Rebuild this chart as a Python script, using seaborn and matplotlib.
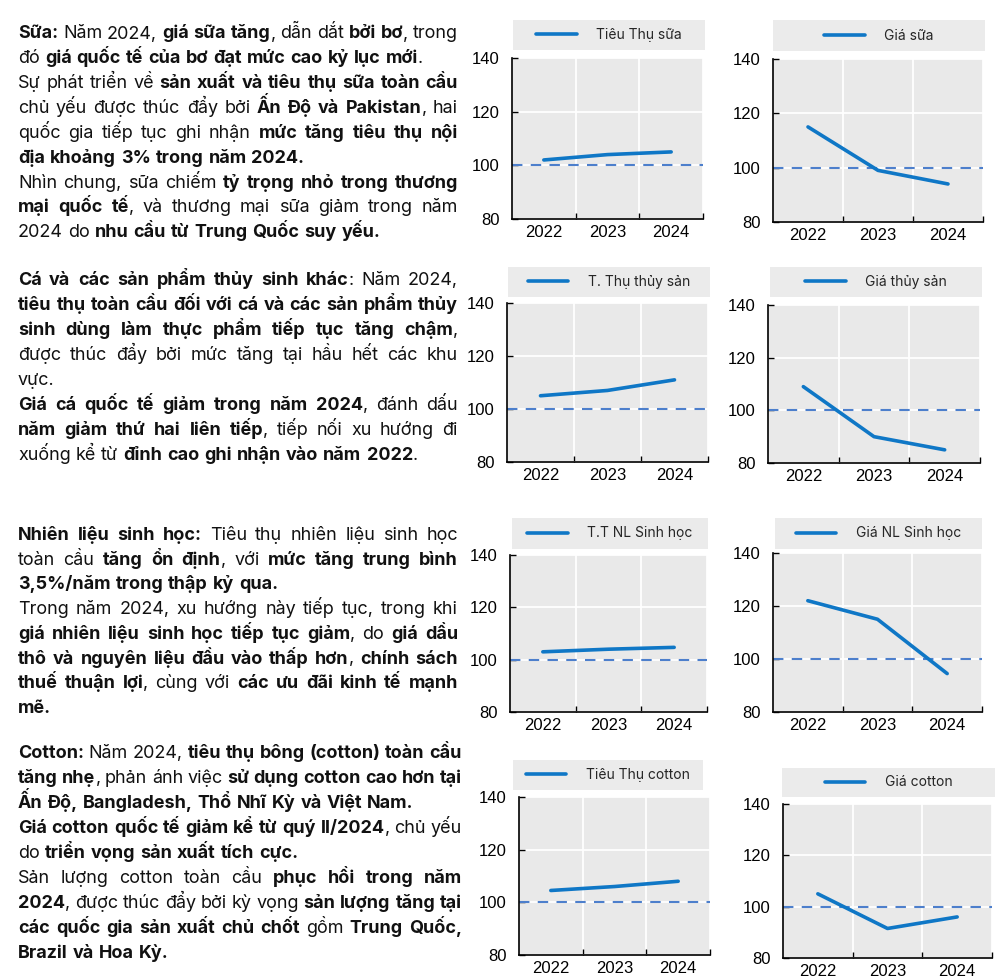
import matplotlib
matplotlib.use("Agg")
import matplotlib.pyplot as plt
from matplotlib.patches import Rectangle
from matplotlib.ticker import FixedLocator
import numpy as np
import pandas as pd
import seaborn as sns

# ---- data ----
years = [2022, 2023, 2024]
sua_tieu_thu = [102, 104, 105]
sua_gia = [115, 99, 94]
thuy_san_tieu_thu = [105, 107, 111]
thuy_san_gia = [109, 90, 85]
nlsh_tieu_thu = [103, 104, 104.7]
nlsh_gia = [122, 115, 94.5]
cotton_tieu_thu = [104.5, 106, 108]
cotton_gia = [105, 91.5, 96]
series = [sua_tieu_thu, sua_gia, thuy_san_tieu_thu, thuy_san_gia,
          nlsh_tieu_thu, nlsh_gia, cotton_tieu_thu, cotton_gia]
series_labels = ["Tiêu Thụ sữa", "Giá sữa", "T. Thụ thủy sản", "Giá thủy sản",
                 "T.T NL Sinh học", "Giá NL Sinh học", "Tiêu Thụ cotton", "Giá cotton"]
y_ticks = [80, 100, 120, 140]
base_level = 100

# text blocks, ** marks bold, flag = justified line
text_sua = [
    ("**Sữa:** Năm 2024, **giá sữa tăng**, dẫn dắt **bởi bơ**, trong", True),
    ("đó **giá quốc tế của bơ đạt mức cao kỷ lục mới**.", False),
    ("Sự phát triển về **sản xuất và tiêu thụ sữa toàn cầu**", True),
    ("chủ yếu được thúc đẩy bởi **Ấn Độ và Pakistan**, hai", True),
    ("quốc gia tiếp tục ghi nhận **mức tăng tiêu thụ nội**", True),
    ("**địa khoảng 3% trong năm 2024.**", False),
    ("Nhìn chung, sữa chiếm **tỷ trọng nhỏ trong thương**", True),
    ("**mại quốc tế**, và thương mại sữa giảm trong năm", True),
    ("2024 do **nhu cầu từ Trung Quốc suy yếu.**", False),
]
text_ca = [
    ("**Cá và các sản phẩm thủy sinh khác**: Năm 2024,", True),
    ("**tiêu thụ toàn cầu đối với cá và các sản phẩm thủy**", True),
    ("**sinh dùng làm thực phẩm tiếp tục tăng chậm**,", True),
    ("được thúc đẩy bởi mức tăng tại hầu hết các khu", True),
    ("vực.", False),
    ("**Giá cá quốc tế giảm trong năm 2024**, đánh dấu", True),
    ("**năm giảm thứ hai liên tiếp**, tiếp nối xu hướng đi", True),
    ("xuống kể từ **đỉnh cao ghi nhận vào năm 2022**.", False),
]
text_nlsh = [
    ("**Nhiên liệu sinh học:** Tiêu thụ nhiên liệu sinh học", True),
    ("toàn cầu **tăng ổn định**, với **mức tăng trung bình**", True),
    ("**3,5%/năm trong thập kỷ qua.**", False),
    ("Trong năm 2024, xu hướng này tiếp tục, trong khi", True),
    ("**giá nhiên liệu sinh học tiếp tục giảm**, do **giá dầu**", True),
    ("**thô và nguyên liệu đầu vào thấp hơn**, **chính sách**", True),
    ("**thuế thuận lợi**, cùng với **các ưu đãi kinh tế mạnh**", True),
    ("**mẽ.**", False),
]
text_cotton = [
    ("**Cotton:** Năm 2024, **tiêu thụ bông (cotton) toàn cầu**", True),
    ("**tăng nhẹ**, phản ánh việc **sử dụng cotton cao hơn tại**", True),
    ("**Ấn Độ, Bangladesh, Thổ Nhĩ Kỳ và Việt Nam.**", False),
    ("**Giá cotton quốc tế giảm kể từ quý II/2024**, chủ yếu", True),
    ("do **triển vọng sản xuất tích cực.**", False),
    ("Sản lượng cotton toàn cầu **phục hồi trong năm**", True),
    ("**2024**, được thúc đẩy bởi kỳ vọng **sản lượng tăng tại**", True),
    ("**các quốc gia sản xuất chủ chốt** gồm **Trung Quốc,**", True),
    ("**Brazil và Hoa Kỳ.**", False),
]

# ---- layout (pixels in a 1000x977 canvas) ----
W, H = 1000, 977
axes_px = [(512, 58, 703, 219), (773, 59, 983, 222),
           (507, 303, 708, 462), (768, 305, 980, 463),
           (510, 555, 707, 712), (773, 553, 982, 712),
           (519, 797, 710, 955), (783, 804, 992, 958)]
legend_px = [(513, 20, 705, 50), (773, 20, 985, 51),
             (508, 267, 710, 297), (770, 267, 982, 297),
             (512, 518, 708, 549), (775, 518, 982, 549),
             (513, 760, 703, 790), (782, 768, 995, 797)]
blocks = [(text_sua, 18, 458, 38.5, 24.85),
          (text_ca, 18, 458, 285, 25.0),
          (text_nlsh, 18, 458, 540, 24.7),
          (text_cotton, 18, 462, 758, 25.0)]

BODY = ["Inter", "DejaVu Sans"]
TICKF = ["Liberation Sans Narrow", "Liberation Sans"]
LINE_C = "#0f77c6"
DASH_C = "#4d7fcc"
BG = "#e9e9e9"

sns.set_theme(style="darkgrid", rc={"axes.facecolor": BG, "grid.color": "white",
                                    "grid.linewidth": 1.3})
plt.rcParams["font.family"] = BODY

fig = plt.figure(figsize=(10, 9.77), dpi=100)
renderer = fig.canvas.get_renderer()


def fx(px):
    return px / W


def fy(py):
    return 1 - py / H


def parse(line):
    words = [[]]
    for i, seg in enumerate(line.split("**")):
        parts = seg.split(" ")
        for j, p in enumerate(parts):
            if j > 0:
                words.append([])
            if p:
                words[-1].append((p, i % 2 == 1))
    return [w for w in words if w]


def text_width(s, size, bold):
    t = fig.text(0, 0, s, fontsize=size, fontweight="bold" if bold else "normal")
    wd = t.get_window_extent(renderer).width
    t.remove()
    return wd


# pick a body size so the widest justified line just fits with normal spaces
ref_size = 10.0
ref_space = text_width("n n", ref_size, False) - text_width("nn", ref_size, False)
need = 0
for lines, x0, x1, _, _ in blocks:
    for line, justify in lines:
        if not justify:
            continue
        words = parse(line)
        nat = sum(text_width(s, ref_size, b) for w in words for s, b in w)
        nat += ref_space * 0.9 * (len(words) - 1)
        need = max(need, nat / (x1 - x0))
body_size = ref_size / need
space_w = text_width("n n", body_size, False) - text_width("nn", body_size, False)

for lines, x0, x1, ybase, step in blocks:
    for k, (line, justify) in enumerate(lines):
        words = parse(line)
        arts = []
        for w in words:
            pieces = []
            for s, b in w:
                t = fig.text(0, fy(ybase + k * step), s, fontsize=body_size,
                             fontweight="bold" if b else "normal",
                             va="baseline", ha="left", color="#111111")
                pieces.append((t, t.get_window_extent(renderer).width))
            arts.append(pieces)
        total = sum(wd for p in arts for _, wd in p)
        if justify and len(arts) > 1:
            gap = (x1 - x0 - total) / (len(arts) - 1)
        else:
            gap = space_w
        x = x0
        for pieces in arts:
            for t, wd in pieces:
                t.set_x(fx(x))
                x += wd
            x += gap

# ---- small charts ----
for i, vals in enumerate(series):
    l, t, r, b = axes_px[i]
    ax = fig.add_axes([fx(l), fy(b), fx(r) - fx(l), fy(t) - fy(b)])
    df = pd.DataFrame({"year": years, "value": vals})
    sns.lineplot(data=df, x="year", y="value", ax=ax, color=LINE_C,
                 linewidth=2.6, label=series_labels[i], legend=False)
    ax.axhline(base_level, color=DASH_C, linewidth=1.5, dashes=(5, 4), zorder=1)
    ax.set_xlim(years[0] - 0.5, years[-1] + 0.5)
    ax.set_ylim(y_ticks[0], y_ticks[-1])
    ax.set_yticks(y_ticks)
    ax.set_xticks(years)
    ax.xaxis.set_minor_locator(FixedLocator([y + 0.5 for y in years]))
    ax.grid(False)
    ax.grid(True, axis="y", which="major", color="white", linewidth=1.3)
    ax.grid(True, axis="x", which="minor", color="white", linewidth=1.3)
    ax.set_xlabel("")
    ax.set_ylabel("")
    for side in ["top", "right"]:
        ax.spines[side].set_visible(False)
    for side in ["left", "bottom"]:
        ax.spines[side].set_visible(True)
        ax.spines[side].set_color("black")
        ax.spines[side].set_linewidth(1.2)
    ax.tick_params(axis="y", which="major", direction="in", length=4, width=1,
                   color="black", pad=9, left=True)
    ax.tick_params(axis="x", which="major", length=0, pad=4)
    ax.tick_params(axis="x", which="minor", direction="in", length=4, width=1,
                   color="black", bottom=True)
    for lab in ax.get_xticklabels() + ax.get_yticklabels():
        lab.set_fontfamily(TICKF)
        lab.set_fontsize(12)
        lab.set_color("black")

    # grey legend box above the panel
    gl, gt, gr, gb = legend_px[i]
    fig.add_artist(Rectangle((fx(gl), fy(gb)), fx(gr) - fx(gl), fy(gt) - fy(gb),
                             transform=fig.transFigure, facecolor="#ebebeb",
                             edgecolor="none", zorder=-1))
    handles, labels = ax.get_legend_handles_labels()
    ax.legend(handles, labels, loc="center",
              bbox_to_anchor=(fx(gl), fy(gb), fx(gr) - fx(gl), fy(gt) - fy(gb)),
              bbox_transform=fig.transFigure, frameon=False, fontsize=10,
              handlelength=2.9, handletextpad=1.4, borderpad=0)

fig.savefig("out.png", dpi=100)
